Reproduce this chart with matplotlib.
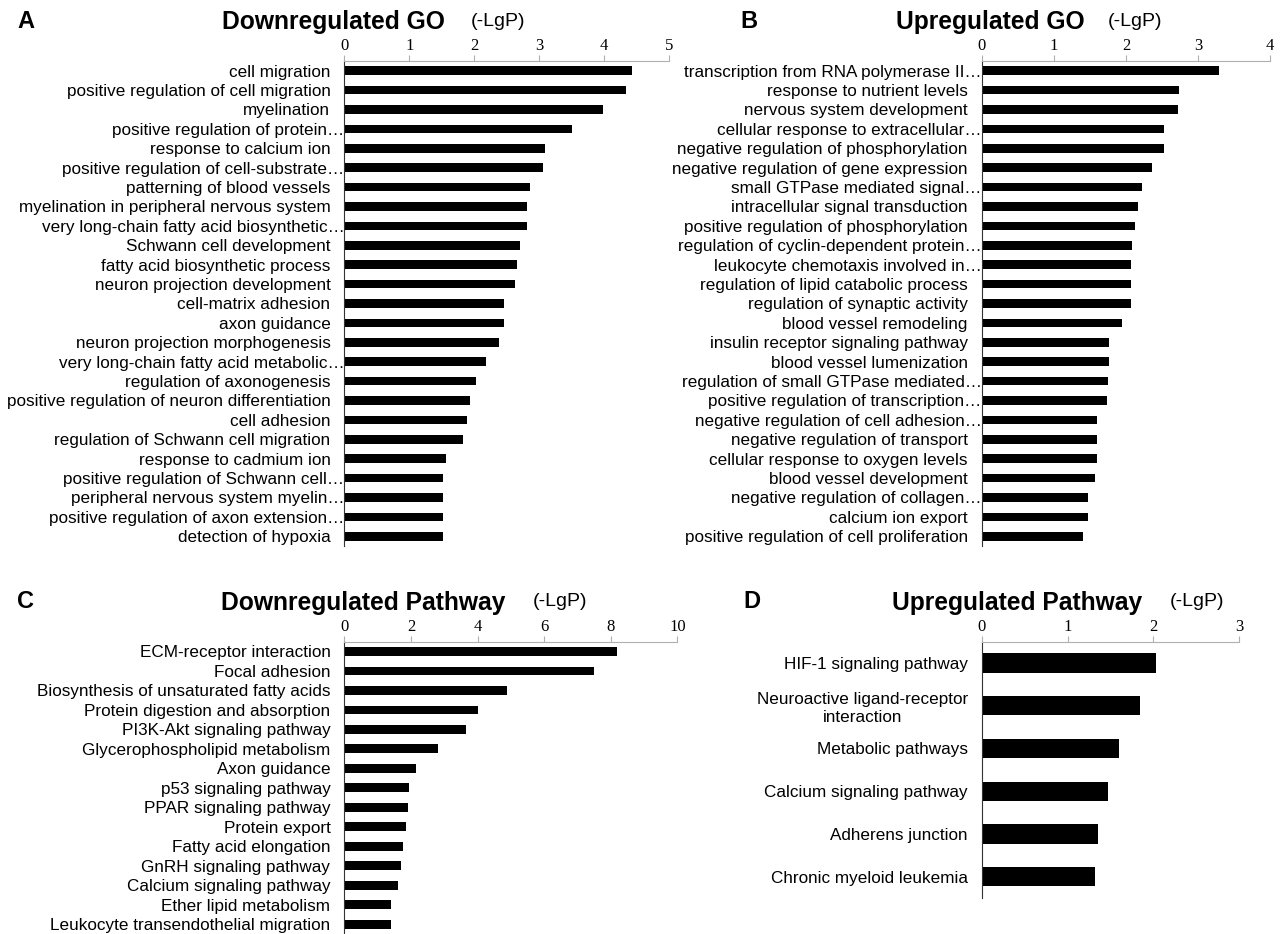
import matplotlib
matplotlib.use("Agg")
import matplotlib.pyplot as plt
from matplotlib.transforms import ScaledTranslation

plt.rcParams['font.family'] = ['Liberation Sans', 'DejaVu Sans']

# ---- data (-lgP) ----
down_go_terms = ["cell migration", "positive regulation of cell migration", "myelination",
                 "positive regulation of protein\u2026", "response to calcium ion",
                 "positive regulation of cell-substrate\u2026", "patterning of blood vessels",
                 "myelination in peripheral nervous system",
                 "very long-chain fatty acid biosynthetic\u2026", "Schwann cell development",
                 "fatty acid biosynthetic process", "neuron projection development",
                 "cell-matrix adhesion", "axon guidance", "neuron projection morphogenesis",
                 "very long-chain fatty acid metabolic\u2026", "regulation of axonogenesis",
                 "positive regulation of neuron differentiation", "cell adhesion",
                 "regulation of Schwann cell migration", "response to cadmium ion",
                 "positive regulation of Schwann cell\u2026", "peripheral nervous system myelin\u2026",
                 "positive regulation of axon extension\u2026", "detection of hypoxia"]
down_go_vals = [4.43, 4.33, 3.98, 3.51, 3.08, 3.05, 2.86, 2.81, 2.81, 2.70, 2.66, 2.63, 2.46,
                2.45, 2.38, 2.18, 2.03, 1.93, 1.89, 1.83, 1.56, 1.52, 1.52, 1.52, 1.52]

up_go_terms = ["transcription from RNA polymerase II\u2026", "response to nutrient levels",
               "nervous system development", "cellular response to extracellular\u2026",
               "negative regulation of phosphorylation", "negative regulation of gene expression",
               "small GTPase mediated signal\u2026", "intracellular signal transduction",
               "positive regulation of phosphorylation", "regulation of cyclin-dependent protein\u2026",
               "leukocyte chemotaxis involved in\u2026", "regulation of lipid catabolic process",
               "regulation of synaptic activity", "blood vessel remodeling",
               "insulin receptor signaling pathway", "blood vessel lumenization",
               "regulation of small GTPase mediated\u2026", "positive regulation of transcription\u2026",
               "negative regulation of cell adhesion\u2026", "negative regulation of transport",
               "cellular response to oxygen levels", "blood vessel development",
               "negative regulation of collagen\u2026", "calcium ion export",
               "positive regulation of cell proliferation"]
up_go_vals = [3.29, 2.74, 2.72, 2.52, 2.52, 2.36, 2.22, 2.16, 2.12, 2.09, 2.07, 2.07, 2.07,
              1.94, 1.77, 1.77, 1.75, 1.74, 1.60, 1.60, 1.60, 1.57, 1.47, 1.47, 1.40]

down_path_terms = ["ECM-receptor interaction", "Focal adhesion",
                   "Biosynthesis of unsaturated fatty acids", "Protein digestion and absorption",
                   "PI3K-Akt signaling pathway", "Glycerophospholipid metabolism", "Axon guidance",
                   "p53 signaling pathway", "PPAR signaling pathway", "Protein export",
                   "Fatty acid elongation", "GnRH signaling pathway", "Calcium signaling pathway",
                   "Ether lipid metabolism", "Leukocyte transendothelial migration"]
down_path_vals = [8.2, 7.5, 4.9, 4.02, 3.66, 2.80, 2.15, 1.95, 1.90, 1.85, 1.75, 1.71, 1.61,
                  1.39, 1.39]

up_path_terms = ["HIF-1 signaling pathway", "Neuroactive ligand-receptor\ninteraction",
                 "Metabolic pathways", "Calcium signaling pathway", "Adherens junction",
                 "Chronic myeloid leukemia"]
up_path_vals = [2.03, 1.84, 1.60, 1.47, 1.35, 1.32]

W, H = 1283, 934
fig = plt.figure(figsize=(W / 100, H / 100), dpi=100)


def px_axes(left, right, top, bottom):
    return fig.add_axes([left / W, 1 - bottom / H, (right - left) / W, (bottom - top) / H])


def bar_panel(ax, terms, vals, xmax, step):
    n = len(terms)
    ax.barh(range(n), vals, height=0.45, color="black")
    ax.set_ylim(n - 0.5, -0.5)
    ax.set_xlim(0, xmax)
    ax.set_yticks(range(n))
    ax.set_yticklabels(terms, fontsize=12.3, multialignment="center")
    ax.tick_params(axis="y", length=0, pad=10)
    ax.xaxis.tick_top()
    ax.set_xticks(range(0, xmax + 1, step))
    ax.tick_params(axis="x", direction="out", length=4, color="#b0b0b0", pad=1,
                   labelsize=12, labelfontfamily="Liberation Serif")
    # truncated names run their ellipsis up to the axis line
    shift = ScaledTranslation(10 / 72, 0, fig.dpi_scale_trans)
    for lbl in ax.get_yticklabels():
        if lbl.get_text().endswith("\u2026"):
            lbl.set_transform(lbl.get_transform() + shift)
    for s in ["right", "bottom"]:
        ax.spines[s].set_visible(False)
    ax.spines["top"].set_color("#b0b0b0")
    ax.spines["left"].set_color("#333333")


axA = px_axes(344.3, 669.3, 61, 546)
bar_panel(axA, down_go_terms, down_go_vals, 5, 1)
axB = px_axes(981.7, 1270.3, 61, 546)
bar_panel(axB, up_go_terms, up_go_vals, 4, 1)
axC = px_axes(344.3, 677.3, 641.7, 934)
bar_panel(axC, down_path_terms, down_path_vals, 10, 2)
axD = px_axes(981.7, 1239.3, 641.7, 898)
bar_panel(axD, up_path_terms, up_path_vals, 3, 1)

# panel letters, titles and units
heads = [("A", 26, 22, "Downregulated GO", 333, 22, 498, 21),
         ("B", 749, 22, "Upregulated GO", 990, 22, 1135, 21),
         ("C", 26, 602, "Downregulated Pathway", 363, 603, 560, 601),
         ("D", 752, 602, "Upregulated Pathway", 1017, 603, 1197, 601)]
for letter, lx, ly, title, tx, ty, ux, uy in heads:
    fig.text(lx / W, 1 - ly / H, letter, fontsize=17, fontweight="bold",
             ha="center", va="center")
    fig.text(tx / W, 1 - ty / H, title, fontsize=17.7, fontweight="bold",
             ha="center", va="center")
    fig.text(ux / W, 1 - uy / H, "(-LgP)", fontsize=14, ha="center", va="center")

fig.savefig("out.png", dpi=100)
